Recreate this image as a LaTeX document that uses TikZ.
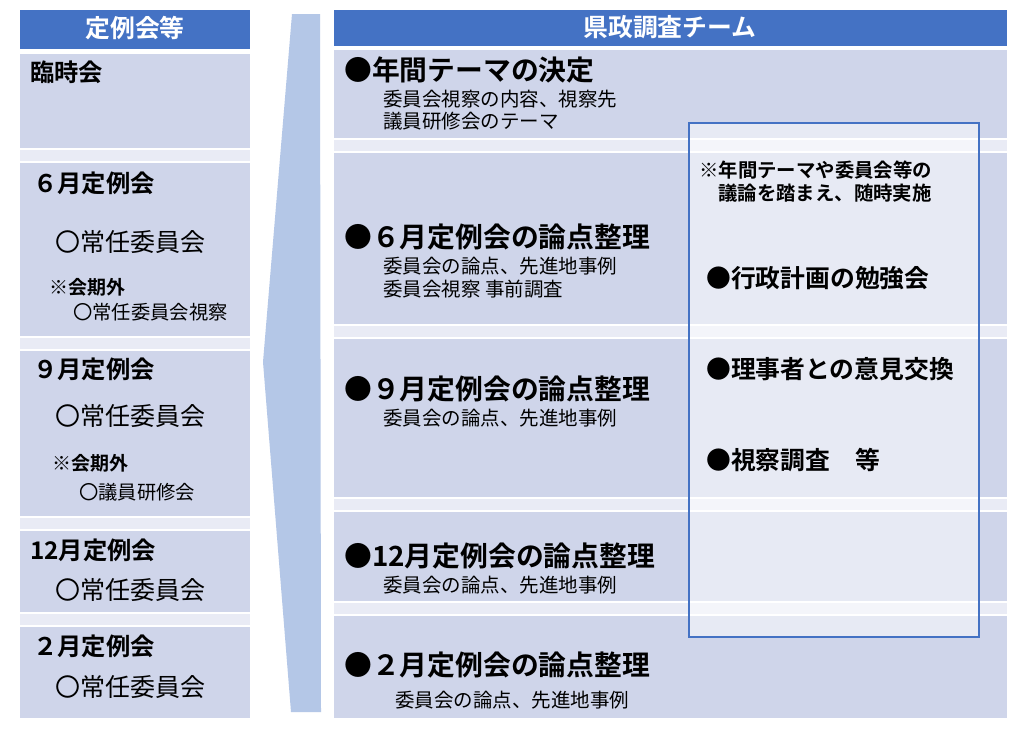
\documentclass[tikz,border=0pt]{standalone}
\usepackage{fontspec}
\setmainfont{Noto Sans CJK JP}[BoldFont={Noto Sans CJK JP Bold}]
\definecolor{hdr}{HTML}{4472C4}
\definecolor{boxc}{HTML}{CFD5EA}
\definecolor{stripc}{HTML}{E9EBF5}
\definecolor{arrowc}{HTML}{B4C7E7}
\tikzset{
  boxfill/.style={fill=boxc},
  stripfill/.style={fill=stripc},
  hdrfill/.style={fill=hdr},
  hdrtext/.style={text=white, font=\fontsize{24.8}{28}\selectfont\bfseries, inner sep=0},
  ttl/.style={anchor=west, inner sep=0, font=\fontsize{24.3}{27}\selectfont\bfseries},
  big/.style={anchor=west, inner sep=0, font=\fontsize{25}{28}\selectfont},
  smb/.style={anchor=west, inner sep=0, font=\fontsize{19}{22}\selectfont\bfseries},
  sm/.style={anchor=west, inner sep=0, font=\fontsize{19.3}{22}\selectfont},
  rttl/.style={anchor=west, inner sep=0, font=\fontsize{27.8}{31}\selectfont\bfseries},
  rsm/.style={anchor=west, inner sep=0, font=\fontsize{19.5}{22}\selectfont},
  osm/.style={anchor=west, inner sep=0, font=\fontsize{19.4}{22}\selectfont\bfseries},
  ovt/.style={anchor=west, inner sep=0, font=\fontsize{24.8}{28}\selectfont\bfseries},
}
\begin{document}
\begin{tikzpicture}[x=1pt,y=-1pt]
\useasboundingbox (0,0) rectangle (1024,729);
\fill[white] (0,0) rectangle (1024,729);
% left column
\path[hdrfill] (20,10) rectangle (250,49);
\path[boxfill] (20,54) rectangle (250,148);
\path[stripfill] (20,150) rectangle (250,161);
\path[boxfill] (20,163) rectangle (250,336);
\path[stripfill] (20,338) rectangle (250,349);
\path[boxfill] (20,351) rectangle (250,516);
\path[stripfill] (20,518) rectangle (250,529);
\path[boxfill] (20,531) rectangle (250,612);
\path[stripfill] (20,614) rectangle (250,625);
\path[boxfill] (20,627) rectangle (250,718);
% arrow shape
\fill[arrowc] (292,14) -- (320,14) -- (321,712) -- (291,712) -- (263,362) -- cycle;
% right column
\path[hdrfill] (334,10) rectangle (1007,46);
\path[boxfill] (334,50) rectangle (1007,138);
\path[stripfill] (334,140) rectangle (1007,151);
\path[boxfill] (334,153) rectangle (1007,324);
\path[stripfill] (334,326) rectangle (1007,337);
\path[boxfill] (334,339) rectangle (1007,497);
\path[stripfill] (334,499) rectangle (1007,510);
\path[boxfill] (334,512) rectangle (1007,601);
\path[stripfill] (334,603) rectangle (1007,614);
\path[boxfill] (334,616) rectangle (1007,718);
% overlay
\path[fill=white, fill opacity=0.5, draw=hdr, draw opacity=1, line width=1.2pt] (689,123) rectangle (979,637);
% left texts
\node[hdrtext] (lh) at (135,28) {定例会等};
\node[ttl] (l1) at (30,72) {臨時会};
\node[ttl] (l2) at (33,183) {６月定例会};
\node[big] (l2a) at (55,242) {〇常任委員会};
\node[smb] (l2b) at (49,287) {※会期外};
\node[sm] (l2c) at (73,312) {〇常任委員会視察};
\node[ttl] (l3) at (33,369) {９月定例会};
\node[big] (l3a) at (55,416) {〇常任委員会};
\node[smb] (l3b) at (52,463) {※会期外};
\node[sm] (l3c) at (79,492) {〇議員研修会};
\node[ttl] (l4) at (30,550) {12月定例会};
\node[big] (l4a) at (55,590) {〇常任委員会};
\node[ttl] (l5) at (33,646) {２月定例会};
\node[big] (l5a) at (55,687) {〇常任委員会};
% right texts
\node[hdrtext] (rh) at (670,27) {県政調査チーム};
\node[rttl] (r1) at (344,70) {●年間テーマの決定};
\node[rsm] (r1a) at (383,99) {委員会視察の内容、視察先};
\node[rsm] (r1b) at (383,121) {議員研修会のテーマ};
\node[rttl] (r2) at (344,237) {●６月定例会の論点整理};
\node[rsm] (r2a) at (383,266) {委員会の論点、先進地事例};
\node[rsm] (r2b) at (383,289) {委員会視察 事前調査};
\node[rttl] (r3) at (344,389) {●９月定例会の論点整理};
\node[rsm] (r3a) at (383,418) {委員会の論点、先進地事例};
\node[rttl] (r4) at (344,556) {●12月定例会の論点整理};
\node[rsm] (r4a) at (383,585) {委員会の論点、先進地事例};
\node[rttl] (r5) at (344,665) {●２月定例会の論点整理};
\node[rsm] (r5a) at (395,700) {委員会の論点、先進地事例};
% overlay texts
\node[osm] (o1) at (699,170) {※年間テーマや委員会等の};
\node[osm] (o2) at (718,193) {議論を踏まえ、随時実施};
\node[ovt] (o3) at (706,278) {●行政計画の勉強会};
\node[ovt] (o4) at (706,369) {●理事者との意見交換};
\node[ovt] (o5) at (706,460) {●視察調査　等};
\end{tikzpicture}
\end{document}
